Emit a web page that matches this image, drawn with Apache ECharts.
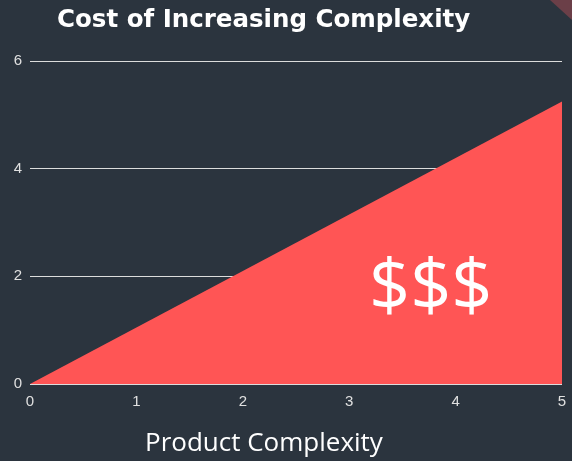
<!DOCTYPE html>
<html><head><meta charset="utf-8">
<script src="https://cdn.jsdelivr.net/npm/echarts@6/dist/echarts.min.js"></script>
<style>html,body{margin:0;padding:0;background:#2b343e;}#c{width:572px;height:461px;}</style>
</head><body><div id="c"></div>
<script>
const xValues = [0, 5];
const costValues = [0, 5.25];
const xTicks = [0, 1, 2, 3, 4, 5];
const yTicks = [0, 2, 4, 6];
const titleText = 'Cost of Increasing Complexity';
const xName = 'Product Complexity';
const areaLabel = '$$$';

const chart = echarts.init(document.getElementById('c'));
chart.setOption({
  backgroundColor: '#2b343e',
  animation: false,
  title: {
    text: titleText, left: 52, top: 3,
    textStyle: { color: '#ffffff', fontSize: 24.5, fontWeight: 'bold', fontFamily: 'DejaVu Sans' }
  },
  grid: { left: 30, right: 10, top: 61, bottom: 77 },
  xAxis: {
    type: 'value', min: xTicks[0], max: xTicks[xTicks.length - 1], interval: 1,
    axisLine: { show: false }, axisTick: { show: false }, splitLine: { show: false },
    axisLabel: { color: '#e0e0e0', fontSize: 15, margin: 10, fontFamily: 'Liberation Sans' }
  },
  yAxis: {
    type: 'value', min: yTicks[0], max: yTicks[yTicks.length - 1], interval: 2,
    axisLine: { show: false }, axisTick: { show: false },
    splitLine: { show: true, lineStyle: { color: '#dcdcdc', width: 1 } },
    axisLabel: { color: '#e0e0e0', fontSize: 15, margin: 8, fontFamily: 'Liberation Sans' }
  },
  series: [{
    type: 'line',
    data: xValues.map((x, i) => [x, costValues[i]]),
    symbol: 'none',
    lineStyle: { width: 0 },
    areaStyle: { color: '#ff5555', opacity: 1 },
    z: 3
  }],
  graphic: [
    { type: 'text', left: 145, top: 431, z: 10,
      style: { text: xName, fill: '#ffffff', fontSize: 26, fontFamily: 'Open Sans' } },
    { type: 'text', left: 369, top: 253, z: 10,
      style: { text: areaLabel, fill: '#ffffff', fontSize: 72, fontFamily: 'Open Sans' } },
    { type: 'polygon', z: 10, shape: { points: [[550, 0], [572, 0], [572, 20]] },
      style: { fill: '#6b3f48' } }
  ]
});
</script></body></html>
